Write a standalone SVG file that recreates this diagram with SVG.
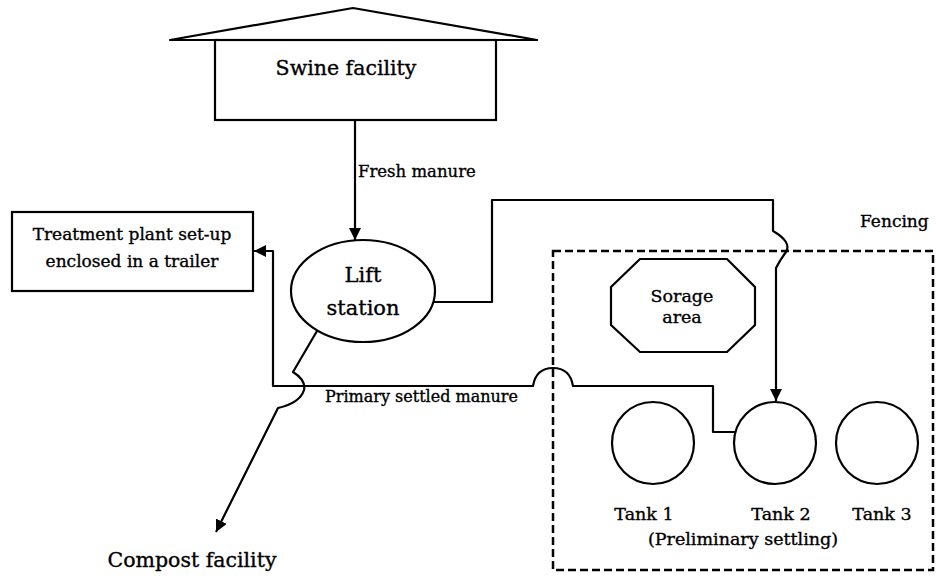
<svg xmlns="http://www.w3.org/2000/svg" width="936" height="576" viewBox="0 0 936 576">
<style>
.s{fill:none;stroke:#000;stroke-width:2.2;stroke-linejoin:round}
.n{fill:#fff;stroke:#000;stroke-width:2.2}
.t{font-family:"DejaVu Serif","Liberation Serif",serif;fill:#000;stroke:#000;stroke-width:0.35;text-anchor:middle}
.fence{fill:none;stroke:#000;stroke-width:2.5;stroke-dasharray:8 4}
</style>
<defs>
<marker id="ah" viewBox="0 0 12 12" refX="12" refY="6" markerWidth="12" markerHeight="12" markerUnits="userSpaceOnUse" orient="auto">
<path d="M0,0 L12,6 L0,12 Z" fill="#000"/>
</marker>
</defs>
<rect width="936" height="576" fill="#fff"/>
<g id="fencing">
<rect class="fence" x="553" y="251" width="380" height="319"/>
<text class="t" x="860" y="227" font-size="17" style="text-anchor:start">Fencing</text>
</g>
<g id="connectors">
<path class="s" d="M355,120 L355,240" marker-end="url(#ah)"/>
<path class="s" d="M433,302 L492,302 L492,200 L773,200 L773,231 Q792,242 786,252 Q780,260 776,268 L776,401" marker-end="url(#ah)"/>
<path class="s" d="M735,432 L713,432 L713,386 L573,386 Q570,368 553,368 Q536,368 533,386 L273,386 L273,251 L254,251" marker-end="url(#ah)"/>
<path class="s" d="M317,331 L293,372 Q306,380 304,390 Q300,403 278,408 L216,532" marker-end="url(#ah)"/>
</g>
<g id="swine-facility">
<rect class="n" x="215" y="40" width="281" height="80"/>
<path class="s" d="M170,40 L353,8 L537,40 Z" fill="#fff" stroke-width="2.6"/>
<text class="t" x="346" y="75" font-size="20.5">Swine facility</text>
<text class="t" x="358" y="177" font-size="16.5" style="text-anchor:start">Fresh manure</text>
</g>
<g id="treatment-plant">
<rect class="n" x="12" y="212" width="241" height="79"/>
<text class="t" x="132" y="240" font-size="17">Treatment plant set-up</text>
<text class="t" x="132" y="267" font-size="17">enclosed in a trailer</text>
</g>
<g id="lift-station">
<ellipse class="n" cx="363" cy="291" rx="72" ry="51"/>
<text class="t" x="363" y="282" font-size="21">Lift</text>
<text class="t" x="363" y="315" font-size="21">station</text>
</g>
<g id="primary-label">
<text class="t" x="325" y="402" font-size="16" style="text-anchor:start">Primary settled manure</text>
</g>
<g id="storage-area">
<polygon class="n" points="640,259 727,259 755,287 755,325 727,352 640,352 611,325 611,287"/>
<text class="t" x="682" y="302" font-size="17.5">Sorage</text>
<text class="t" x="682" y="323" font-size="17.5">area</text>
</g>
<g id="tank1">
<circle class="n" cx="653" cy="443" r="41"/>
<text class="t" x="644" y="520" font-size="17.5">Tank 1</text>
</g>
<g id="tank2">
<circle class="n" cx="775" cy="443" r="41"/>
<text class="t" x="781" y="520" font-size="17.5">Tank 2</text>
</g>
<g id="tank3">
<circle class="n" cx="877" cy="443" r="41"/>
<text class="t" x="882" y="520" font-size="17.5">Tank 3</text>
</g>
<g id="settling-label">
<text class="t" x="743" y="545" font-size="17.5">(Preliminary settling)</text>
</g>
<g id="compost-facility">
<text class="t" x="192" y="567" font-size="20.5">Compost facility</text>
</g>
</svg>
